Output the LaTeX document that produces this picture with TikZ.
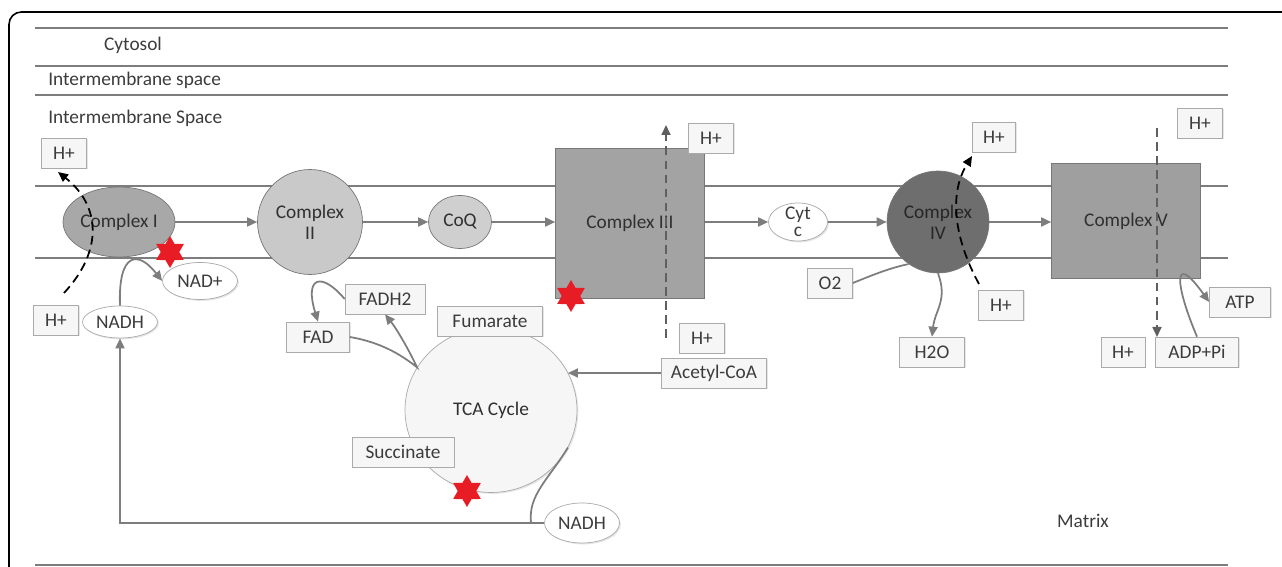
\documentclass[tikz,border=0pt]{standalone}
\usepackage{fontspec}
\setmainfont{Carlito}
\usepackage{tikz}
\usetikzlibrary{positioning,arrows.meta,shapes.geometric,shadows}
\definecolor{linea}{RGB}{125,125,125}
\definecolor{gristexto}{RGB}{60,60,60}
\definecolor{borde}{RGB}{170,170,170}
\definecolor{fondocaja}{RGB}{246,246,246}
\definecolor{estrella}{RGB}{232,28,36}
\definecolor{guion}{RGB}{95,95,95}
\definecolor{oscuro}{RGB}{110,110,110}

\begin{document}
\begin{tikzpicture}[x=0.02cm, y=-0.02cm,
  font=\fontsize{11}{12}\selectfont,
  caja/.style={draw=borde, fill=fondocaja, text=gristexto, minimum width=#1,
    minimum height=0.6cm, inner sep=1pt,
    drop shadow={shadow xshift=0.8pt, shadow yshift=-0.8pt, opacity=0.2}},
  caja/.default=0.9cm,
  burbuja/.style={ellipse, draw=borde, fill=white, text=gristexto,
    minimum width=1.5cm, minimum height=#1, inner sep=0pt,
    drop shadow={shadow xshift=0.8pt, shadow yshift=-0.8pt, opacity=0.2}},
  complejo/.style={draw=borde!70!black, fill=#1, text=gristexto!80!black,
    align=center, inner sep=0pt},
  zona/.style={text=gristexto, inner sep=0pt},
  membrana/.style={draw=linea, line width=1.1pt},
  rel/.style={-{Triangle[length=2mm,width=1.8mm]}, draw=linea, line width=1pt},
  proton/.style={-{Triangle[length=2mm,width=1.8mm]}, line width=1pt,
    dash pattern=on 5pt off 3pt},
  marca/.style={star, star points=6, star point ratio=1.73, fill=estrella,
    minimum size=0.64cm, inner sep=0pt}
]
\useasboundingbox (0,0) rectangle (1282,567);
% Marco y compartimentos
\draw[line width=0.9pt, rounded corners=7pt] (9,567) -- (9,12) -- (1282,12);
\draw[membrana] (35,28) -- (1228,28);
\draw[membrana] (35,66) -- (1228,66);
\draw[membrana] (35,95) -- (1228,95);
\draw[membrana] (35,186) -- (1228,186);
\draw[membrana] (35,258) -- (1228,258);
\draw[membrana] (35,565) -- (1228,565);
\node[zona] (cito) at (133,45) {Cytosol};
\node[zona, anchor=west] (ims1) at (48,80) {Intermembrane space};
\node[zona, anchor=west] (ims2) at (48,118) {Intermembrane Space};
\node[zona] (matriz) at (1083,521) {Matrix};
% Complejos
\node[complejo=gray!68, ellipse, minimum width=2.24cm, minimum height=1.4cm] (c1) at (119,222) {Complex I};
\node[complejo=gray!42, circle, minimum size=2.1cm] (c2) at (310,222) {Complex\\II};
\node[complejo=gray!38, ellipse, minimum width=1.26cm, minimum height=1.06cm] (coq) at (460,222) {CoQ};
\node[complejo=gray!72, minimum width=2.98cm, minimum height=3cm] (c3) at (630,223) {Complex III};
\node[burbuja=0.76cm, minimum width=1.18cm,
  label={[text=gristexto, align=center, font=\fontsize{11}{10}\selectfont]center:Cyt\\c}] (cyt) at (798,222) {};
\node[complejo=oscuro, circle, minimum size=2.04cm, text=black!85] (c4) at (938,222) {Complex\\IV};
\node[complejo=gray!75, minimum width=2.98cm, minimum height=2.3cm] (c5) at (1126,221) {Complex V};
\node[complejo=fondocaja, draw=borde, ellipse, minimum width=3.44cm, minimum height=3.3cm,
  drop shadow={shadow xshift=0.8pt, shadow yshift=-0.8pt, opacity=0.2}] (tca) at (491,410) {TCA Cycle};
% Sustratos
\node[caja] (hp1) at (64,153) {H+};
\node[caja] (hp2) at (56,320) {H+};
\node[burbuja=0.64cm] (nadh1) at (120,322) {NADH};
\node[burbuja=0.74cm] (nadp) at (200,281) {NAD+};
\node[caja=1.6cm] (fadh2) at (385,299) {FADH2};
\node[caja=1.26cm] (fad) at (318,337) {FAD};
\node[caja=2.1cm] (fum) at (490,321) {Fumarate};
\node[caja=2.04cm] (suc) at (403,452) {Succinate};
\node[burbuja=0.8cm] (nadh2) at (582,523) {NADH};
\node[caja] (hp3) at (711,138) {H+};
\node[caja] (hp4) at (702,338) {H+};
\node[caja=2.1cm] (acetil) at (714,373) {Acetyl-CoA};
\node[caja] (o2) at (830,283) {O2};
\node[caja=0.85cm] (hp5) at (994,137) {H+};
\node[caja] (hp6) at (1001,305) {H+};
\node[caja=1.3cm] (h2o) at (932,352) {H2O};
\node[caja] (hp7) at (1200,123) {H+};
\node[caja=1.22cm] (atp) at (1240,302) {ATP};
\node[caja=0.88cm] (hp8) at (1123,352) {H+};
\node[caja=1.66cm] (adp) at (1197,352) {ADP+Pi};
% Cadena de electrones
\draw[rel] (c1) -- (c2);
\draw[rel] (c2) -- (coq);
\draw[rel] (coq) -- (coq -| c3.west);
\draw[rel] (coq -| c3.east) -- (cyt);
\draw[rel] (cyt) -- (c4);
\draw[rel] (c4.east) -- (c4.east -| c5.west);
% Bombeo de protones
\coordinate (p1a) at (64,293);
\coordinate (p1b) at (58,172);
\coordinate (p3a) at (666,338);
\coordinate (p3b) at (666,125);
\coordinate (p4a) at (979,284);
\coordinate (p4b) at (972,156);
\coordinate (p5a) at (1157,128);
\coordinate (p5b) at (1157,337);
\draw[proton] (p1a) .. controls (104,250) and (100,205) .. (p1b);
\draw[proton, draw=guion] (p3a) -- (p3b);
\draw[proton] (p4a) .. controls (955,240) and (948,195) .. (p4b);
\draw[proton, draw=guion] (p5a) -- (p5b);
% Reacciones
\draw[rel] (nadh1.north) .. controls (118,252) and (138,250) .. (nadp.west);
\draw[rel] (fadh2.west) .. controls (322,272) and (304,276) .. (fad.north);
\draw[rel] (fad.east) .. controls (385,343) and (405,358) .. (tca.150)
  .. controls (408,348) and (396,328) .. (fadh2.south);
\draw[rel] (acetil.west) -- (tca.26 |- acetil.west);
\coordinate (union) at (531,523);
\draw[draw=linea, line width=1pt] (tca.-26) .. controls (548,480) and (528,495) .. (union);
\draw[rel] (nadh2.west) -| (nadh1.south);
\draw[draw=linea, line width=1pt] (o2.east) .. controls (875,274) and (890,268) .. (c4.235);
\draw[rel] (c4.south) .. controls (948,300) and (935,310) .. (h2o.north);
\draw[rel] (adp.north) .. controls (1175,285) and (1172,250) .. (atp.west);
% Marcas
\node[marca] (e1) at (170,252) {};
\node[marca] (e2) at (571,296) {};
\node[marca] (e3) at (467,491) {};
\end{tikzpicture}
\end{document}
